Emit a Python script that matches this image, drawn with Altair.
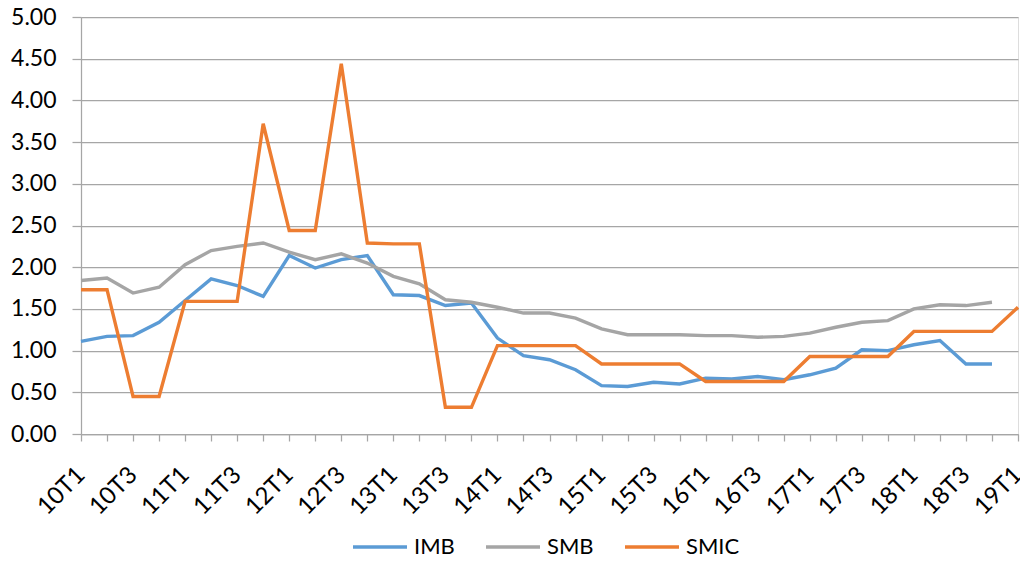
import altair as alt
import pandas as pd

quarters = ["10T1", "10T2", "10T3", "10T4", "11T1", "11T2", "11T3", "11T4",
            "12T1", "12T2", "12T3", "12T4", "13T1", "13T2", "13T3", "13T4",
            "14T1", "14T2", "14T3", "14T4", "15T1", "15T2", "15T3", "15T4",
            "16T1", "16T2", "16T3", "16T4", "17T1", "17T2", "17T3", "17T4",
            "18T1", "18T2", "18T3", "18T4", "19T1"]

imb = [1.11, 1.17, 1.18, 1.34, 1.60, 1.86, 1.78, 1.65, 2.14, 1.99, 2.09, 2.14,
       1.67, 1.66, 1.54, 1.57, 1.15, 0.94, 0.89, 0.77, 0.58, 0.57, 0.62, 0.60,
       0.67, 0.66, 0.69, 0.65, 0.71, 0.79, 1.01, 1.00, 1.07, 1.12, 0.84, 0.84]

smb = [1.84, 1.87, 1.69, 1.76, 2.03, 2.20, 2.25, 2.29, 2.18, 2.09, 2.16, 2.05,
       1.89, 1.80, 1.61, 1.58, 1.52, 1.45, 1.45, 1.39, 1.26, 1.19, 1.19, 1.19,
       1.18, 1.18, 1.16, 1.17, 1.21, 1.28, 1.34, 1.36, 1.50, 1.55, 1.54, 1.58]

smic = [1.73, 1.73, 0.45, 0.45, 1.59, 1.59, 1.59, 3.72, 2.44, 2.44, 4.44, 2.29,
        2.28, 2.28, 0.32, 0.32, 1.06, 1.06, 1.06, 1.06, 0.84, 0.84, 0.84, 0.84,
        0.63, 0.63, 0.63, 0.63, 0.93, 0.93, 0.93, 0.93, 1.23, 1.23, 1.23, 1.23,
        1.52]

series_names = ["IMB", "SMB", "SMIC"]
series_colors = ["#5B9BD5", "#A5A5A5", "#ED7D31"]
y_ticks = [0, 0.5, 1.0, 1.5, 2.0, 2.5, 3.0, 3.5, 4.0, 4.5, 5.0]

rows = []
for name, vals in zip(series_names, [imb, smb, smic]):
    for i, v in enumerate(vals):
        rows.append({"quarter": quarters[i], "value": v, "series": name, "order": i})
df = pd.DataFrame(rows)

FONT = "Lato"
GRID = "#a6a6a6"

chart = alt.Chart(df).mark_line(strokeWidth=3.4).encode(
    x=alt.X(
        "quarter:O",
        sort=quarters,
        scale=alt.Scale(padding=0),
        axis=alt.Axis(
            title=None,
            labelAngle=-45,
            labelAlign="right",
            labelBaseline="middle",
            labelPadding=30,
            tickSize=7,
            tickColor=GRID,
            tickWidth=1.25,
            domainColor=GRID,
            domainWidth=1.25,
            labelFont=FONT,
            labelFontSize=24,
            labelColor="#000000",
            labelOverlap=False,
            labelExpr="test(/T[24]$/, datum.value) ? '' : datum.value",
            grid=False,
        ),
    ),
    y=alt.Y(
        "value:Q",
        scale=alt.Scale(domain=[0, 5], nice=False),
        axis=alt.Axis(
            title=None,
            values=y_ticks,
            format=".2f",
            grid=True,
            gridColor=GRID,
            gridWidth=1.25,
            tickSize=9,
            tickColor=GRID,
            tickWidth=1.25,
            domainColor=GRID,
            domainWidth=1.25,
            labelFont=FONT,
            labelFontSize=23,
            labelPadding=16,
            labelColor="#000000",
        ),
    ),
    color=alt.Color(
        "series:N",
        scale=alt.Scale(domain=series_names, range=series_colors),
        legend=alt.Legend(
            title=None,
            orient="none",
            legendX=270,
            legendY=501,
            direction="horizontal",
            symbolType="stroke",
            symbolSize=2916,
            symbolStrokeWidth=3.5,
            labelFont=FONT,
            labelFontSize=22,
            labelColor="#000000",
            labelOffset=5,
            columnPadding=24,
            padding=0,
        ),
    ),
    order=alt.Order("order:Q"),
).properties(
    width=937,
    height=417,
    autosize=alt.AutoSizeParams(type="none"),
    padding={"left": 73, "top": 9, "right": 2, "bottom": 120},
).configure_view(stroke=None).configure(background="white")

chart.save("out.html", embed_options={"renderer": "svg", "actions": False})
